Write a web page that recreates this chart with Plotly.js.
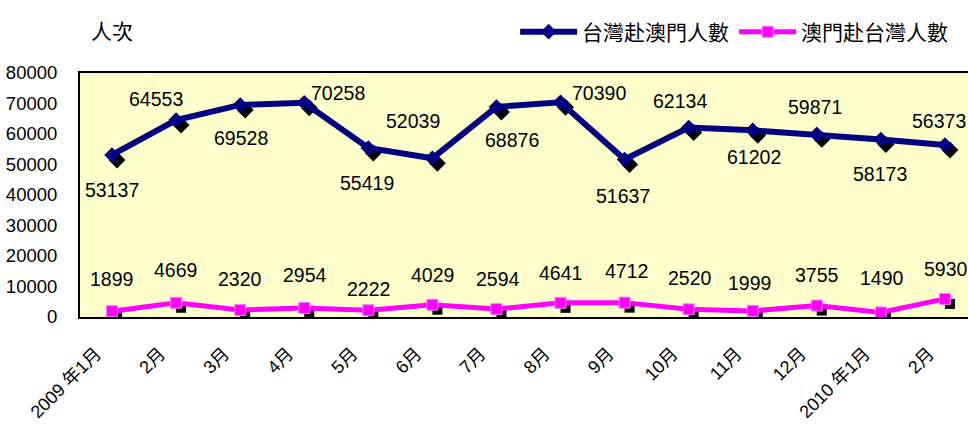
<!DOCTYPE html>
<html>
<head>
<meta charset="utf-8">
<script src="https://cdn.plot.ly/plotly-3.0.1.min.js"></script>
<style>html,body{margin:0;padding:0;background:#fff;}#chart{width:968px;height:425px;}</style>
</head>
<body>
<div id="chart"></div>
<script>
// ---- data ----
var months = ["2009 年1月","2月","3月","4月","5月","6月","7月","8月","9月","10月","11月","12月","2010 年1月","2月"];
var twToMacau = [53137,64553,69528,70258,55419,52039,68876,70390,51637,62134,61202,59871,58173,56373];
var macauToTw = [1899,4669,2320,2954,2222,4029,2594,4641,4712,2520,1999,3755,1490,5930];
var seriesNames = ["台灣赴澳門人數","澳門赴台灣人數"];
var yTicks = [0,10000,20000,30000,40000,50000,60000,70000,80000];

// ---- label placement (style) ----
var blueDX = [0,-20,1,34,-1,-19,16,38,-2,-9,1,-2,-1,-6];
var blueDY = [-35,21,-33,10,-35,37,-33,9,-36,26,-27,27,-34,24];
var pinkDX = [-1,-1,0,1,0,0,2,0,2,1,-3,0,1,1];
var pinkDY = [32,33,31,33,21,30,30,30,32,31,28,31,34,30];

var idx = months.map(function(_, i){ return i; });
var numFont = "Liberation Sans, Arial, Noto Sans CJK TC, sans-serif";
var cjkFont = "Noto Sans CJK TC, Liberation Sans, sans-serif";

var traces = [
  {x: idx, y: twToMacau, xaxis:'x', yaxis:'y', mode:'markers', showlegend:false, hoverinfo:'skip',
   marker:{symbol:'diamond', size:13, color:'#000000'}},
  {x: idx, y: macauToTw, xaxis:'x', yaxis:'y', mode:'markers', showlegend:false, hoverinfo:'skip',
   marker:{symbol:'square', size:10, color:'#000000'}},
  {x: idx, y: twToMacau, xaxis:'x2', yaxis:'y2', mode:'lines+markers', name: seriesNames[0],
   line:{color:'#000080', width:6}, marker:{symbol:'diamond', size:12, color:'#000080'}},
  {x: idx, y: macauToTw, xaxis:'x2', yaxis:'y2', mode:'lines+markers', name: seriesNames[1],
   line:{color:'#FF00FF', width:5}, marker:{symbol:'square', size:11, color:'#FF00FF', line:{color:'#FF77FF', width:1}}}
];

var annotations = [];
twToMacau.forEach(function(v, i){
  annotations.push({x:i, y:v, xref:'x2', yref:'y2', text:String(v), showarrow:false,
    xshift: blueDX[i], yshift: blueDY[i], font:{family:numFont, size:19.5, color:'#000'}});
});
macauToTw.forEach(function(v, i){
  annotations.push({x:i, y:v, xref:'x2', yref:'y2', text:String(v), showarrow:false,
    xshift: pinkDX[i], yshift: pinkDY[i], font:{family:numFont, size:19.5, color:'#000'}});
});
annotations.push({x:0.036, y:1.176, xref:'paper', yref:'paper', text:'人次', showarrow:false,
  xanchor:'center', yanchor:'middle', font:{family:cjkFont, size:21, color:'#000'}});

var xr = [-0.5, 13.36];
var yr = [0, 80000];
var shiftX = 5 / 64.08, shiftY = 5 * 80000 / 244;

var layout = {
  width: 968, height: 425,
  margin: {l:80, r:0, t:73, b:108, pad:0},
  paper_bgcolor:'#ffffff',
  plot_bgcolor:'#FFFFCC',
  font:{family:numFont, color:'#000'},
  showlegend:true,
  legend:{orientation:'h', x:0.49, xanchor:'left', y:1.168, yanchor:'middle',
    font:{family:cjkFont, size:21, color:'#000'}, bgcolor:'rgba(0,0,0,0)', itemwidth:57,
    tracegroupgap:0},
  xaxis:{range:[xr[0]-shiftX, xr[1]-shiftX], showgrid:false, zeroline:false, showline:false,
    showticklabels:false, ticks:'', fixedrange:true},
  yaxis:{range:[yr[0]+shiftY, yr[1]+shiftY], showgrid:false, zeroline:false, showline:false,
    showticklabels:false, ticks:'', fixedrange:true},
  xaxis2:{overlaying:'x', side:'bottom', range:xr, tickmode:'array', tickvals:idx, ticktext:months,
    tickangle:-45, showgrid:false, zeroline:false, showline:true, mirror:true, linecolor:'#000', linewidth:2,
    ticks:'', ticklabelstandoff:17, ticklabelshift:-16,
    tickfont:{family:numFont, size:18, color:'#000'}},
  yaxis2:{overlaying:'y', side:'left', range:yr, tickmode:'array', tickvals:yTicks,
    ticktext: yTicks.map(String),
    showgrid:false, zeroline:false, showline:true, linecolor:'#000', linewidth:2, ticks:'',
    ticklabelstandoff:17, tickfont:{family:numFont, size:18.5, color:'#000'}},
  annotations: annotations
};

Plotly.newPlot('chart', traces, layout, {staticPlot:true, displayModeBar:false});
</script>
</body>
</html>
